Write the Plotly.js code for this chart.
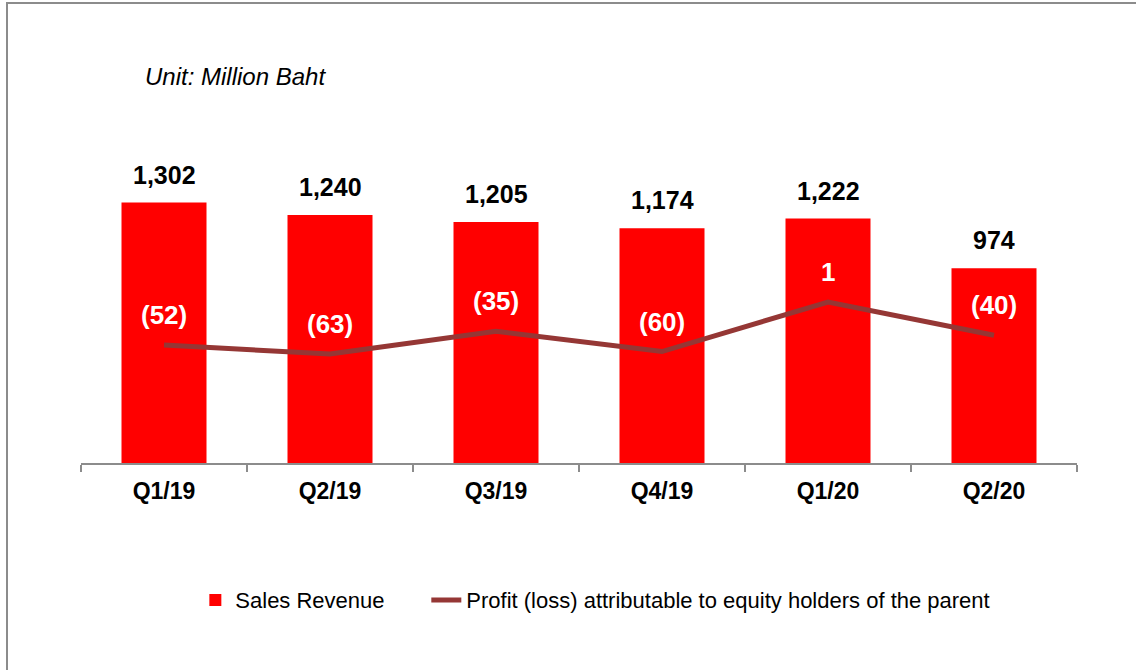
<!DOCTYPE html>
<html>
<head>
<meta charset="utf-8">
<script src="https://cdn.plot.ly/plotly-3.0.1.min.js"></script>
<style>
  html, body { margin: 0; padding: 0; background: #fff; }
  #wrap { position: relative; width: 1136px; height: 670px; overflow: hidden; }
  #chart { position: absolute; left: 0; top: 0; width: 1136px; height: 670px; }
  .bt { position: absolute; left: 6px; top: 2px; width: 1130px; height: 2px; background: #8c8c8c; z-index: 5; }
  .bl { position: absolute; left: 6px; top: 2px; width: 2px; height: 668px; background: #8c8c8c; z-index: 5; }
</style>
</head>
<body>
<div id="wrap">
  <div id="chart"></div>
  <div class="bt"></div>
  <div class="bl"></div>
</div>
<script>
// ---- data ----
const quarters = ["Q1/19", "Q2/19", "Q3/19", "Q4/19", "Q1/20", "Q2/20"];
const salesRevenue = [1302, 1240, 1205, 1174, 1222, 974];
const profitLoss = [-52, -63, -35, -60, 1, -40];
const seriesNames = ["Sales Revenue", "Profit (loss) attributable to equity holders of the parent"];
const unitLabel = "Unit: Million Baht";

const FONT = "Liberation Sans, Arial, Helvetica, sans-serif";

function fmtThousands(v) { return v.toLocaleString("en-US"); }
function fmtProfit(v) { return v < 0 ? "(" + Math.abs(v) + ")" : String(v); }

const barTrace = {
  type: "bar",
  name: seriesNames[0],
  x: quarters,
  y: salesRevenue,
  marker: { color: "#ff0000" },
  legend: "legend",
  hoverinfo: "x+y"
};

const lineTrace = {
  type: "scatter",
  mode: "lines",
  name: seriesNames[1],
  x: quarters,
  y: profitLoss,
  yaxis: "y2",
  line: { color: "#953735", width: 5 },
  legend: "legend2",
  hoverinfo: "x+y"
};

const annotations = [];
quarters.forEach((q, i) => {
  annotations.push({
    x: q, y: salesRevenue[i], xref: "x", yref: "y",
    text: fmtThousands(salesRevenue[i]),
    showarrow: false, yanchor: "middle", yshift: 28,
    font: { family: FONT, size: 25, color: "#000000", weight: "bold" }
  });
  annotations.push({
    x: q, y: profitLoss[i], xref: "x", yref: "y2",
    text: fmtProfit(profitLoss[i]),
    showarrow: false, yanchor: "middle", yshift: 30,
    font: { family: FONT, size: 26, color: "#ffffff", weight: "bold" }
  });
});
annotations.push({
  x: 0.062, y: 1.287, xref: "paper", yref: "paper",
  xanchor: "left", yanchor: "middle",
  text: "<i>" + unitLabel + "</i>",
  showarrow: false,
  font: { family: FONT, size: 24, color: "#000000" }
});

const legendCommon = {
  orientation: "h",
  xanchor: "left",
  y: -0.457,
  yanchor: "middle",
  font: { family: FONT, size: 22, color: "#000000" },
  bgcolor: "rgba(0,0,0,0)"
};

const layout = {
  width: 1136,
  height: 670,
  margin: { l: 81, r: 59, t: 163, b: 207, pad: 0 },
  paper_bgcolor: "#ffffff",
  plot_bgcolor: "#ffffff",
  bargap: 0.488,
  showlegend: true,
  font: { family: FONT, color: "#000000" },
  xaxis: {
    type: "category",
    showline: true,
    linecolor: "#8c8c8c",
    linewidth: 2,
    ticks: "outside",
    tickson: "boundaries",
    ticklen: 7,
    tickwidth: 2,
    tickcolor: "#8c8c8c",
    showgrid: false,
    zeroline: false,
    ticklabelstandoff: 6,
    tickfont: { family: FONT, size: 23, color: "#000000", weight: "bold" }
  },
  yaxis: {
    range: [0, 1500],
    visible: false,
    showgrid: false,
    zeroline: false
  },
  yaxis2: {
    range: [-197.2, 172.1],
    overlaying: "y",
    side: "right",
    visible: false,
    showgrid: false,
    zeroline: false
  },
  legend: Object.assign({}, legendCommon, { x: 0.1148 }),
  legend2: Object.assign({}, legendCommon, { x: 0.3467 }),
  annotations: annotations
};

Plotly.newPlot("chart", [barTrace, lineTrace], layout, { displayModeBar: false, staticPlot: true });
</script>
</body>
</html>
